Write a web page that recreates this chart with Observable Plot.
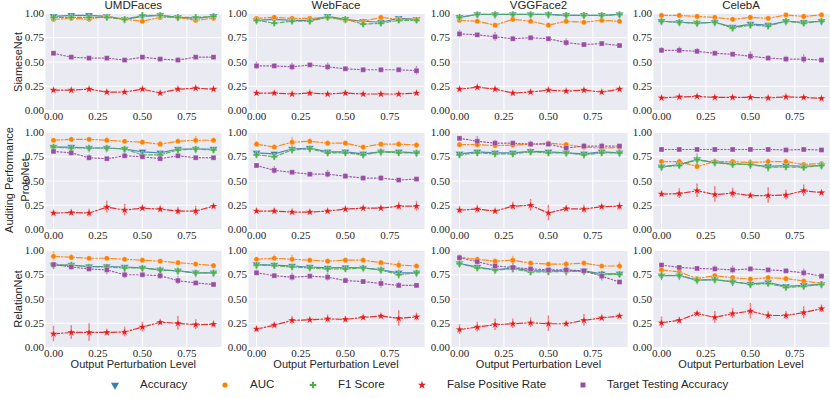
<!DOCTYPE html>
<html><head><meta charset="utf-8">
<script src="https://cdn.jsdelivr.net/npm/d3@7"></script>
<script src="https://cdn.jsdelivr.net/npm/@observablehq/plot@0.6"></script>
<style>
body{margin:0;background:#fff;}
#root{position:relative;width:830px;height:398px;overflow:hidden;font-family:"Liberation Sans",Arial,sans-serif;color:#262626;}
.abs{position:absolute;white-space:nowrap;line-height:1;}
.panel{position:absolute;}
.title{font-size:11.5px;transform:translateX(-50%);}
.xlab{font-size:11px;transform:translateX(-50%);}
.ylab{font-size:11px;transform:translate(-50%,-50%) rotate(-90deg);}
.leg{font-size:11.5px;transform:translateY(-50%);}
</style></head><body><div id="root"></div><script>
const models = ["SiameseNet", "ProtoNet", "RelationNet"];
const datasets = ["UMDFaces", "WebFace", "VGGFace2", "CelebA"];
const levels = [0, 0.1, 0.2, 0.3, 0.4, 0.5, 0.6, 0.7, 0.8, 0.9];
const metrics = ["Accuracy", "AUC", "F1 Score", "False Positive Rate", "Target Testing Accuracy"];
const xTicks = [0, 0.25, 0.5, 0.75];
const yTicks = [0, 0.25, 0.5, 0.75, 1];
const xLabel = "Output Perturbation Level";
const yLabelOuter = "Auditing Performance";

// panel order: SiameseNet x 4 datasets, ProtoNet x 4, RelationNet x 4
const accuracy = [
  [0.97,0.98,0.98,0.97,0.94,0.97,0.98,0.96,0.95,0.97],
  [0.93,0.94,0.93,0.93,0.97,0.94,0.92,0.91,0.95,0.94],
  [0.96,0.99,0.99,0.99,0.99,0.99,0.98,0.98,0.98,0.99],
  [0.92,0.91,0.90,0.91,0.86,0.89,0.88,0.92,0.91,0.92],
  [0.85,0.85,0.84,0.84,0.83,0.80,0.79,0.83,0.83,0.83],
  [0.79,0.78,0.83,0.84,0.80,0.80,0.78,0.80,0.80,0.79],
  [0.78,0.80,0.79,0.79,0.805,0.80,0.79,0.78,0.80,0.79],
  [0.645,0.67,0.72,0.69,0.68,0.67,0.65,0.66,0.65,0.66],
  [0.85,0.85,0.835,0.835,0.83,0.82,0.80,0.79,0.77,0.77],
  [0.855,0.85,0.84,0.83,0.82,0.825,0.82,0.80,0.77,0.77],
  [0.865,0.83,0.80,0.82,0.79,0.79,0.79,0.79,0.76,0.76],
  [0.74,0.74,0.695,0.70,0.675,0.655,0.67,0.63,0.64,0.65]
];
const auc = [
  [0.94,0.95,0.94,0.97,0.94,0.92,0.96,0.96,0.93,0.95],
  [0.95,0.96,0.95,0.95,0.96,0.93,0.92,0.96,0.94,0.94],
  [0.93,0.92,0.88,0.94,0.92,0.88,0.92,0.91,0.93,0.92],
  [0.98,0.98,0.97,0.96,0.94,0.96,0.95,0.985,0.97,0.985],
  [0.92,0.93,0.93,0.92,0.91,0.90,0.88,0.91,0.92,0.92],
  [0.88,0.85,0.90,0.91,0.89,0.89,0.85,0.88,0.88,0.87],
  [0.875,0.875,0.865,0.87,0.88,0.89,0.875,0.85,0.84,0.845],
  [0.70,0.70,0.65,0.70,0.70,0.69,0.70,0.70,0.67,0.68],
  [0.94,0.93,0.92,0.92,0.91,0.90,0.89,0.875,0.86,0.845],
  [0.91,0.92,0.91,0.90,0.89,0.90,0.90,0.875,0.85,0.84],
  [0.93,0.91,0.89,0.90,0.87,0.86,0.86,0.87,0.84,0.84],
  [0.80,0.78,0.71,0.74,0.72,0.705,0.72,0.71,0.685,0.66]
];
const f1 = [
  [0.96,0.96,0.96,0.96,0.94,0.98,0.98,0.96,0.96,0.97],
  [0.93,0.90,0.92,0.92,0.96,0.94,0.89,0.90,0.93,0.93],
  [0.96,0.99,0.99,0.99,0.99,0.99,0.98,0.98,0.98,0.99],
  [0.92,0.91,0.90,0.91,0.85,0.88,0.87,0.92,0.90,0.92],
  [0.85,0.84,0.84,0.84,0.83,0.77,0.77,0.82,0.83,0.82],
  [0.77,0.75,0.82,0.83,0.79,0.79,0.77,0.80,0.79,0.79],
  [0.77,0.79,0.78,0.78,0.80,0.79,0.79,0.77,0.79,0.79],
  [0.645,0.66,0.72,0.69,0.67,0.67,0.64,0.645,0.64,0.66],
  [0.85,0.85,0.83,0.83,0.82,0.82,0.80,0.79,0.77,0.77],
  [0.85,0.845,0.83,0.82,0.81,0.81,0.82,0.80,0.75,0.77],
  [0.865,0.82,0.80,0.81,0.78,0.78,0.785,0.785,0.75,0.755],
  [0.745,0.745,0.695,0.70,0.68,0.65,0.66,0.62,0.63,0.65]
];
const fpr = [
  [0.21,0.21,0.22,0.19,0.19,0.22,0.18,0.22,0.23,0.22],
  [0.18,0.18,0.17,0.18,0.17,0.18,0.17,0.17,0.17,0.18],
  [0.22,0.24,0.22,0.18,0.19,0.21,0.20,0.21,0.19,0.22],
  [0.13,0.14,0.145,0.135,0.135,0.135,0.13,0.14,0.135,0.125],
  [0.17,0.175,0.17,0.23,0.20,0.22,0.21,0.19,0.19,0.24],
  [0.19,0.19,0.18,0.18,0.19,0.21,0.22,0.22,0.24,0.24],
  [0.20,0.21,0.19,0.24,0.25,0.17,0.215,0.21,0.235,0.24],
  [0.365,0.37,0.40,0.36,0.375,0.35,0.35,0.355,0.40,0.38],
  [0.14,0.155,0.155,0.155,0.16,0.21,0.26,0.25,0.235,0.24],
  [0.19,0.23,0.28,0.285,0.295,0.29,0.31,0.325,0.30,0.315],
  [0.185,0.21,0.235,0.245,0.255,0.245,0.245,0.28,0.305,0.325],
  [0.255,0.28,0.35,0.31,0.35,0.375,0.33,0.33,0.36,0.40]
];
const target = [
  [0.59,0.55,0.54,0.54,0.52,0.55,0.53,0.52,0.55,0.55],
  [0.46,0.46,0.45,0.47,0.45,0.43,0.42,0.42,0.42,0.41],
  [0.79,0.78,0.76,0.74,0.75,0.74,0.70,0.68,0.69,0.67],
  [0.62,0.62,0.61,0.59,0.58,0.56,0.54,0.53,0.53,0.52],
  [0.805,0.79,0.74,0.73,0.76,0.75,0.73,0.76,0.74,0.74],
  [0.66,0.61,0.59,0.57,0.57,0.55,0.53,0.53,0.51,0.52],
  [0.94,0.91,0.89,0.89,0.88,0.88,0.84,0.86,0.86,0.86],
  [0.825,0.825,0.825,0.825,0.825,0.825,0.825,0.82,0.825,0.82],
  [0.855,0.83,0.81,0.80,0.75,0.75,0.74,0.69,0.665,0.65],
  [0.77,0.74,0.725,0.735,0.725,0.69,0.68,0.66,0.64,0.64],
  [0.925,0.885,0.84,0.825,0.81,0.80,0.80,0.79,0.735,0.675],
  [0.85,0.825,0.815,0.81,0.80,0.81,0.80,0.79,0.77,0.735]
];
// error bar half-lengths
const accuracyErr = [
  [0.01,0.005,0.005,0.005,0.01,0.005,0.005,0.01,0.01,0.005],
  [0.01,0.01,0.01,0.01,0.01,0.01,0.01,0.01,0.01,0.01],
  [0.01,0.005,0.005,0.005,0.005,0.005,0.005,0.005,0.005,0.005],
  [0.015,0.015,0.015,0.015,0.015,0.02,0.015,0.02,0.02,0.015],
  [0.01,0.01,0.01,0.01,0.01,0.02,0.02,0.01,0.01,0.01],
  [0.02,0.02,0.02,0.02,0.02,0.02,0.02,0.01,0.02,0.02],
  [0.01,0.02,0.01,0.01,0.01,0.02,0.02,0.02,0.01,0.01],
  [0.02,0.02,0.02,0.02,0.02,0.02,0.02,0.02,0.02,0.02],
  [0.01,0.01,0.01,0.01,0.01,0.01,0.01,0.01,0.01,0.01],
  [0.01,0.01,0.01,0.01,0.01,0.01,0.01,0.01,0.02,0.01],
  [0.02,0.02,0.02,0.02,0.02,0.02,0.02,0.02,0.02,0.02],
  [0.02,0.02,0.02,0.02,0.02,0.02,0.02,0.02,0.02,0.02]
];
const aucErr = [
  [0.01,0.01,0.01,0.01,0.01,0.01,0.01,0.01,0.01,0.01],
  [0.01,0.01,0.01,0.01,0.01,0.01,0.01,0.01,0.01,0.01],
  [0.01,0.01,0.01,0.01,0.01,0.01,0.01,0.01,0.01,0.01],
  [0.005,0.005,0.005,0.01,0.01,0.01,0.01,0.005,0.01,0.005],
  [0.01,0.01,0.01,0.03,0.01,0.01,0.03,0.02,0.04,0.025],
  [0.03,0.02,0.05,0.03,0.02,0.02,0.02,0.01,0.03,0.03],
  [0.02,0.02,0.02,0.02,0.02,0.02,0.02,0.02,0.02,0.02],
  [0.02,0.03,0.03,0.03,0.02,0.01,0.03,0.03,0.02,0.02],
  [0.05,0.03,0.01,0.01,0.01,0.01,0.01,0.01,0.02,0.01],
  [0.02,0.03,0.04,0.01,0.01,0.02,0.01,0.01,0.04,0.01],
  [0.02,0.02,0.01,0.04,0.02,0.01,0.03,0.02,0.01,0.04],
  [0.02,0.02,0.02,0.02,0.02,0.02,0.02,0.02,0.02,0.02]
];
const f1Err = [
  [0.01,0.01,0.01,0.01,0.01,0.01,0.01,0.01,0.01,0.01],
  [0.01,0.01,0.01,0.01,0.01,0.01,0.01,0.01,0.01,0.01],
  [0.01,0.005,0.005,0.005,0.005,0.005,0.005,0.005,0.005,0.005],
  [0.015,0.015,0.015,0.015,0.015,0.02,0.015,0.02,0.02,0.015],
  [0.02,0.02,0.02,0.02,0.02,0.03,0.03,0.02,0.02,0.02],
  [0.03,0.04,0.04,0.03,0.02,0.03,0.04,0.02,0.03,0.02],
  [0.02,0.03,0.02,0.02,0.02,0.02,0.03,0.04,0.02,0.02],
  [0.02,0.03,0.06,0.03,0.03,0.05,0.05,0.04,0.02,0.03],
  [0.02,0.02,0.02,0.02,0.02,0.02,0.02,0.02,0.02,0.02],
  [0.02,0.02,0.03,0.03,0.02,0.03,0.02,0.02,0.05,0.02],
  [0.04,0.03,0.02,0.04,0.03,0.03,0.05,0.03,0.03,0.03],
  [0.02,0.03,0.02,0.02,0.02,0.02,0.03,0.02,0.02,0.02]
];
const fprErr = [
  [0.01,0.01,0.01,0.02,0.01,0.01,0.015,0.02,0.02,0.01],
  [0.01,0.01,0.01,0.01,0.01,0.015,0.01,0.01,0.01,0.01],
  [0.015,0.02,0.02,0.01,0.02,0.02,0.01,0.015,0.02,0.01],
  [0.015,0.015,0.015,0.01,0.015,0.015,0.015,0.015,0.01,0.01],
  [0.02,0.03,0.04,0.06,0.06,0.02,0.03,0.04,0.05,0.01],
  [0.02,0.03,0.02,0.02,0.02,0.02,0.01,0.02,0.04,0.05],
  [0.04,0.04,0.01,0.04,0.06,0.08,0.03,0.04,0.01,0.04],
  [0.03,0.05,0.07,0.08,0.05,0.02,0.08,0.05,0.06,0.02],
  [0.08,0.07,0.09,0.03,0.05,0.05,0.01,0.07,0.05,0.03],
  [0.03,0.02,0.04,0.02,0.04,0.03,0.02,0.02,0.08,0.04],
  [0.05,0.05,0.06,0.05,0.05,0.08,0.02,0.06,0.03,0.01],
  [0.06,0.03,0.02,0.06,0.05,0.08,0.04,0.04,0.06,0.04]
];
const targetErr = [
  [0.015,0.02,0.01,0.015,0.015,0.015,0.01,0.025,0.015,0.01],
  [0.04,0.025,0.04,0.015,0.04,0.02,0.02,0.015,0.02,0.045],
  [0.04,0.015,0.045,0.025,0.015,0.02,0.04,0.015,0.015,0.01],
  [0.03,0.035,0.03,0.02,0.02,0.045,0.025,0.03,0.045,0.01],
  [0.02,0.03,0.03,0.01,0.01,0.01,0.01,0.01,0.02,0.01],
  [0.02,0.04,0.01,0.01,0.04,0.03,0.02,0.03,0.01,0.01],
  [0.01,0.05,0.03,0.02,0.03,0.01,0.02,0.03,0.03,0.01],
  [0.01,0.01,0.02,0.01,0.01,0.01,0.01,0.01,0.01,0.01],
  [0.01,0.02,0.03,0.05,0.04,0.01,0.04,0.04,0.02,0.01],
  [0.03,0.02,0.04,0.02,0.04,0.03,0.02,0.05,0.03,0.02],
  [0.03,0.02,0.02,0.04,0.02,0.01,0.02,0.02,0.05,0.01],
  [0.01,0.01,0.02,0.03,0.04,0.02,0.02,0.01,0.04,0.02]
];

const seriesValues = [accuracy, auc, f1, fpr, target];
const seriesErrors = [accuracyErr, aucErr, f1Err, fprErr, targetErr];
const colors = ["#377eb8", "#ff7f00", "#4daf4a", "#e41a1c", "#984ea3"];
const dashes = [null, "6,2,1.5,2", "4,2", "6,2,1.5,2", "1.5,2"];

const triDown = {draw(ctx, size) {
  const r = Math.sqrt(size / 1.299);
  ctx.moveTo(0, r); ctx.lineTo(r * 0.866, -r / 2); ctx.lineTo(-r * 0.866, -r / 2); ctx.closePath();
}};
const symbols = [triDown, d3.symbolCircle, d3.symbolCross, d3.symbolStar, d3.symbolSquare];
const symR = [3, 2.6, 2.8, 2.6, 2.8];

const root = document.getElementById("root");
const plotLeft = [45.3, 248, 450.5, 653];
const plotTop = [13.3, 131.8, 250.3];
const PW = 176, PH = 97;
const mL = 32, mR = 4, mT = 3, mB = 16;

models.forEach((model, r) => {
  datasets.forEach((ds, c) => {
    const idx = r * 4 + c;
    const marks = [
      Plot.frame({fill: "#eaeaf2", stroke: null}),
      Plot.gridX(xTicks, {stroke: "white", strokeOpacity: 1, strokeWidth: 1}),
      Plot.gridY(yTicks, {stroke: "white", strokeOpacity: 1, strokeWidth: 1}),
      Plot.axisX(xTicks, {tickSize: 0, tickPadding: 2, tickFormat: d3.format(".2f"), color: "#262626", fontSize: 11, label: null}),
      Plot.axisY(yTicks, {tickSize: 0, tickPadding: 1.5, tickFormat: d3.format(".2f"), color: "#262626", fontSize: 11, label: null})
    ];
    metrics.forEach((m, k) => {
      const data = levels.map((x, i) => ({x, y: seriesValues[k][idx][i], e: seriesErrors[k][idx][i]}));
      marks.push(Plot.ruleX(data, {x: "x", y1: d => d.y - d.e, y2: d => d.y + d.e, stroke: colors[k], strokeOpacity: 0.55, strokeWidth: 1.4}));
      marks.push(Plot.line(data, {x: "x", y: "y", stroke: colors[k], strokeWidth: 1.2, strokeDasharray: dashes[k] || undefined, strokeOpacity: 0.9}));
      marks.push(Plot.dot(data, {x: "x", y: "y", fill: colors[k], stroke: "white", strokeWidth: 0.3, symbol: () => symbols[k], r: symR[k]}));
    });
    const svg = Plot.plot({
      width: PW + mL + mR, height: PH + mT + mB,
      marginLeft: mL, marginRight: mR, marginTop: mT, marginBottom: mB,
      x: {domain: [-0.045, 0.945], axis: null},
      y: {domain: [0, 1], axis: null},
      symbol: {type: "identity"},
      style: {background: "transparent", fontFamily: "'Liberation Serif', serif", fontSize: "11px", overflow: "visible"},
      marks
    });
    svg.classList.add("panel");
    svg.style.left = (plotLeft[c] - mL) + "px";
    svg.style.top = (plotTop[r] - mT) + "px";
    svg.style.position = "absolute";
    root.appendChild(svg);
  });
});

function addText(txt, cls, x, y) {
  const d = document.createElement("div");
  d.className = "abs " + cls;
  d.textContent = txt;
  d.style.left = x + "px"; d.style.top = y + "px";
  root.appendChild(d);
  return d;
}
datasets.forEach((ds, c) => addText(ds, "title", plotLeft[c] + PW / 2, 0));
datasets.forEach((ds, c) => addText(xLabel, "xlab", plotLeft[c] + PW / 2, 359));
const yLabX = [18, 24.5, 18];
models.forEach((m, r) => addText(m, "ylab", yLabX[r], plotTop[r] + PH / 2));
addText(yLabelOuter, "ylab", 8.5, plotTop[1] + PH / 2);

// legend
const legMarkX = [115, 225, 313, 422, 583];
const legTextX = [140, 250, 338, 447, 607];
const legY = 385;
metrics.forEach((m, k) => {
  const s = d3.create("svg").attr("width", 12).attr("height", 12)
    .style("position", "absolute").style("left", (legMarkX[k] - 6) + "px").style("top", (legY - 6) + "px");
  s.append("path").attr("transform", "translate(6,6)")
    .attr("d", d3.symbol(symbols[k], Math.PI * symR[k] * symR[k])())
    .attr("fill", colors[k]);
  root.appendChild(s.node());
  addText(m, "leg", legTextX[k], legY);
});
</script></body></html>
